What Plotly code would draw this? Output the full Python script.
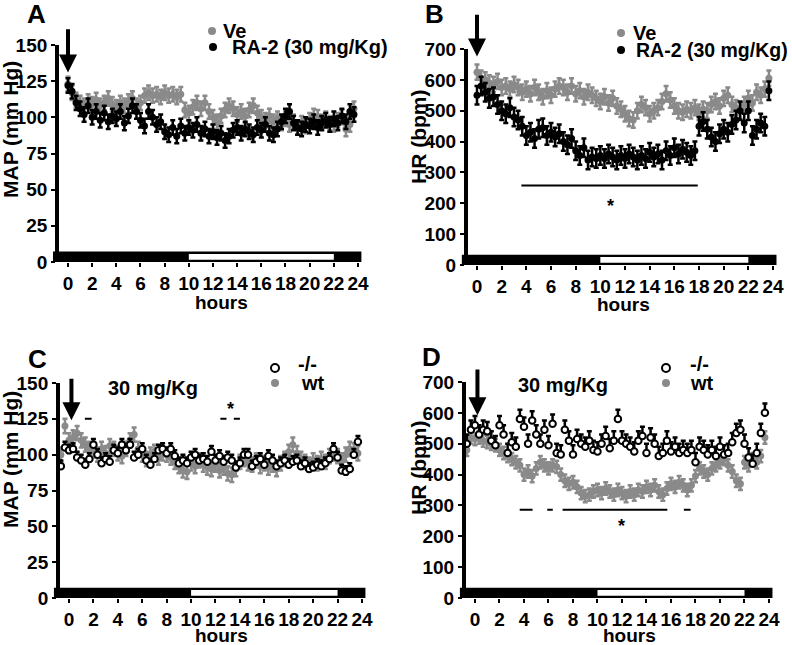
import plotly.graph_objects as go

W, H = 792, 645
FONT = "Liberation Sans, Arial, sans-serif"
GRAY = "#8a8a8a"

# ---------------- data ----------------
hours_ab = [round(i / 3, 3) for i in range(72)]          # 20-min bins, 0..23.67 h
hours_cd = [round(-2 / 3 + i / 3, 3) for i in range(74)]  # 20-min bins, -0.67..23.67 h

# Panel A: MAP (mm Hg)
map_ve = [123, 117, 112, 110, 108, 111, 109, 112, 108, 110, 113, 109,
          107, 110, 108, 111, 113, 108, 110, 115, 117, 115, 116, 114,
          117, 115, 116, 114, 116, 105, 103, 107, 110, 106, 110, 104,
          100, 97, 101, 105, 108, 106, 102, 104, 101, 105, 108, 103,
          100, 98, 101, 97, 99, 96, 99, 95, 97, 93, 96, 94,
          98, 101, 100, 97, 99, 96, 95, 98, 100, 92, 95, 106]
map_ra2 = [122, 118, 110, 106, 102, 108, 100, 104, 98, 103, 97, 101,
           99, 104, 96, 101, 108, 104, 98, 94, 104, 100, 95, 97,
           90, 88, 93, 87, 94, 89, 93, 91, 95, 89, 92, 87,
           90, 86, 89, 84, 87, 91, 93, 89, 92, 90, 88, 93,
           91, 95, 89, 88, 92, 97, 101, 104, 96, 93, 92, 95,
           94, 97, 93, 96, 98, 95, 99, 96, 101, 97, 104, 102]
map_ve_sem = 5
map_ra2_sem = 5

# Panel B: HR (bpm)
hr_ve = [625, 605, 600, 590, 585, 595, 575, 580, 570, 585, 575, 560,
         570, 555, 575, 560, 545, 565, 550, 570, 580, 575, 560, 580,
         555, 565, 545, 560, 550, 540, 530, 545, 525, 540, 515, 505,
         490, 475, 470, 500, 520, 510, 490, 500, 510, 530, 555, 535,
         515, 500, 495, 505, 500, 510, 495, 505, 500, 520, 530, 515,
         540, 550, 520, 510, 500, 520, 540, 525, 560, 550, 570, 605]
hr_ra2 = [550, 580, 560, 540, 545, 520, 500, 490, 510, 480, 470, 450,
          420, 430, 410, 440, 445, 420, 430, 415, 425, 400, 390, 410,
          370, 355, 380, 340, 350, 345, 355, 345, 360, 350, 340, 355,
          345, 360, 350, 340, 355, 345, 365, 350, 360, 340, 370, 355,
          380, 360, 375, 365, 355, 370, 450, 465, 440, 415, 400, 425,
          440, 430, 455, 470, 500, 460, 500, 420, 440, 460, 450, 565]
hr_ve_sem = 25
hr_ra2_sem = 30

# Panel C: MAP (mm Hg), 30 mg/Kg
map_ko = [92, 105,
          103, 104, 98, 96, 93, 97, 107, 100, 94, 97, 95, 103,
          101, 107, 103, 107, 98, 100, 104, 96, 93, 97, 103, 104,
          101, 104, 99, 94, 96, 94, 98, 100, 96, 97, 95, 102,
          96, 99, 95, 98, 96, 91, 94, 100, 100, 92, 95, 97,
          93, 99, 96, 92, 94, 96, 93, 95, 96, 92, 94, 90,
          91, 93, 92, 94, 97, 104, 98, 89, 88, 90, 100, 109]
map_wt = [100, 120,
          110, 112, 115, 110, 107, 104, 103, 100, 104, 101, 106, 104,
          101, 99, 104, 110, 114, 104, 100, 97, 100, 102, 98, 101,
          100, 98, 95, 92, 89, 88, 94, 92, 96, 93, 91, 90,
          93, 89, 91, 87, 86, 90, 95, 97, 94, 93, 96, 92,
          94, 91, 93, 90, 94, 97, 102, 107, 101, 97, 95, 93,
          96, 94, 97, 95, 99, 101, 99, 96, 100, 104, 103, 101]
map_ko_sem = 4
map_wt_sem = 5

# Panel D: HR (bpm), 30 mg/Kg
hr_ko = [500, 545,
         560, 530, 545, 540, 510, 495, 560, 530, 470, 505, 490, 580,
         555, 500, 575, 530, 500, 545, 495, 565, 470, 465, 545, 510,
         465, 515, 500, 490, 510, 480, 475, 500, 525, 485, 510, 580,
         510, 500, 490, 475, 510, 525, 470, 520, 500, 460, 470, 510,
         475, 490, 470, 480, 470, 480, 440, 490, 480, 465, 480, 460,
         490, 465, 470, 505, 535, 545, 500, 455, 435, 470, 535, 600]
hr_wt = [480, 520,
         515, 520, 510, 505, 500, 495, 480, 470, 460, 450, 440, 430,
         400, 410, 395, 420, 440, 430, 420, 430, 425, 400, 380, 370,
         375, 360, 340, 330, 335, 345, 350, 340, 355, 345, 335, 350,
         340, 330, 345, 335, 350, 345, 360, 350, 365, 345, 335, 355,
         370, 360, 375, 365, 350, 365, 395, 420, 410, 400, 420, 430,
         440, 450, 430, 410, 380, 370, 440, 430, 450, 440, 460, 520]
hr_ko_sem = 30
hr_wt_sem = 20

x_ticks = list(range(0, 25, 2))
map_ticks = [0, 25, 50, 75, 100, 125, 150]
hr_ticks = [0, 100, 200, 300, 400, 500, 600, 700]
light_phase = (10, 22)          # light period (white part of bar)
x_span = (-1.25, 24.3)          # extent of the light/dark bar
y_axis_at = -0.9                # hour where the y axis is drawn

# significance marks
sig_b = [(3.6, 17.9)]; sig_b_y = 258; star_b = (10.8, 190)
sig_c = [(1.3, 1.85), (12.4, 12.9), (13.5, 14.0)]; sig_c_y = 125; star_c = (13.2, 132)
sig_d = [(3.65, 4.7), (5.9, 6.35), (7.15, 15.7), (17.05, 17.6)]; sig_d_y = 286; star_d = (12.0, 234)

# ---------------- layout geometry (pixels) ----------------
panels = {
    "A": dict(ax="", h0=68, h24=358, ytop=45, ybot=262, ymax=150, ticks=map_ticks),
    "B": dict(ax="2", h0=477, h24=773, ytop=49, ybot=265, ymax=700, ticks=hr_ticks),
    "C": dict(ax="3", h0=69, h24=362, ytop=383, ybot=598, ymax=150, ticks=map_ticks),
    "D": dict(ax="4", h0=475, h24=769, ytop=382, ybot=598, ymax=700, ticks=hr_ticks),
}

def px(x):
    return x / W

def py(y):
    return 1 - y / H

fig = go.Figure()
layout = dict(width=W, height=H, margin=dict(l=0, r=0, t=0, b=0, pad=0), autosize=False,
              paper_bgcolor="white", plot_bgcolor="white", showlegend=False,
              font=dict(family=FONT, size=19, color="black", weight="bold"))
shapes = []
annotations = []

for name, p in panels.items():
    pph = (p["h24"] - p["h0"]) / 24
    left = p["h0"] + x_span[0] * pph
    right = p["h0"] + x_span[1] * pph
    yax_px = p["h0"] + y_axis_at * pph
    xa = "xaxis" + p["ax"]
    ya = "yaxis" + p["ax"]
    layout[xa] = dict(domain=[px(left), px(right)], range=list(x_span), anchor="y" + p["ax"],
                      automargin=False,
                      tickvals=x_ticks, ticks="outside", ticklen=4, tickwidth=2, tickcolor="black",
                      showline=False, showgrid=False, zeroline=False,
                      tickfont=dict(family=FONT, size=19, weight="bold", color="black"))
    layout[ya] = dict(domain=[py(p["ybot"]), py(p["ytop"])], range=[0, p["ymax"]],
                      anchor="free", position=px(yax_px), automargin=False,
                      tickvals=p["ticks"], ticks="outside", ticklen=4, tickwidth=2, tickcolor="black",
                      showline=True, linewidth=4, linecolor="black",
                      showgrid=False, zeroline=False,
                      tickfont=dict(family=FONT, size=19, weight="bold", color="black"))
    xr, yr = "x" + p["ax"], "y" + p["ax"]
    # light / dark bar
    shapes.append(dict(type="rect", xref=xr, yref=yr + " domain", x0=x_span[0], x1=x_span[1],
                       y0=0, y1=0.048, fillcolor="black", line=dict(width=0), layer="above"))
    shapes.append(dict(type="rect", xref=xr, yref=yr + " domain", x0=light_phase[0], x1=light_phase[1],
                       y0=0.01, y1=0.037, fillcolor="white", line=dict(width=0), layer="above"))

def add_series(ax, xs, ys, sem, color, hollow=False, up_only=False):
    xr, yr = "x" + ax, "y" + ax
    marker = dict(size=7, color=color, line=dict(width=0))
    if hollow:
        marker = dict(size=6.5, color="white", line=dict(width=2, color="black"))
    err = dict(type="constant", value=sem, color=color if not hollow else "black",
               thickness=2.5, width=2.5)
    if up_only:
        err.update(symmetric=False, valueminus=0)
    fig.add_trace(go.Scatter(x=xs, y=ys, mode="markers", marker=marker, error_y=err,
                             xaxis=xr, yaxis=yr, cliponaxis=False))

add_series("", hours_ab, map_ve, map_ve_sem, GRAY)
add_series("", hours_ab, map_ra2, map_ra2_sem, "black")
add_series("2", hours_ab, hr_ve, hr_ve_sem, GRAY)
add_series("2", hours_ab, hr_ra2, hr_ra2_sem, "black")
add_series("3", hours_cd, map_wt, map_wt_sem, GRAY)
add_series("3", hours_cd, map_ko, map_ko_sem, "black", hollow=True, up_only=True)
add_series("4", hours_cd, hr_wt, hr_wt_sem, GRAY)
add_series("4", hours_cd, hr_ko, hr_ko_sem, "black", hollow=True, up_only=True)

# significance lines and stars
for ax, segs, yv, star in [("2", sig_b, sig_b_y, star_b), ("3", sig_c, sig_c_y, star_c),
                           ("4", sig_d, sig_d_y, star_d)]:
    for a, b in segs:
        shapes.append(dict(type="line", xref="x" + ax, yref="y" + ax, x0=a, x1=b, y0=yv, y1=yv,
                           line=dict(color="black", width=2)))
    annotations.append(dict(x=star[0], y=star[1], xref="x" + ax, yref="y" + ax, text="*",
                            showarrow=False, font=dict(size=18, weight="bold")))

# dosing arrows
for ax, tip, tail in [("", (0, 131), 162), ("2", (0, 676), 816),
                      ("3", (0.2, 124), 154), ("4", (0.2, 592), 745)]:
    annotations.append(dict(x=tip[0], y=tip[1], xref="x" + ax, yref="y" + ax,
                            ax=tip[0], ay=tail, axref="x" + ax, ayref="y" + ax,
                            showarrow=True, arrowhead=2, arrowsize=0.9, arrowwidth=4,
                            arrowcolor="black", standoff=0, text=""))

def txt(x, y, text, size=20, xanchor="center", angle=0):
    annotations.append(dict(x=px(x), y=py(y), xref="paper", yref="paper", text=text,
                            showarrow=False, xanchor=xanchor, yanchor="middle", textangle=angle,
                            borderpad=0,
                            font=dict(family=FONT, size=size, weight="bold", color="black")))

# panel letters
txt(36, 14, "A", 26); txt(434, 14, "B", 26); txt(37, 359, "C", 26); txt(432, 357, "D", 26)
# axis titles
txt(10, 130, "MAP (mm Hg)", 21, angle=-90)
txt(418, 137, "HR (bpm)", 21, angle=-90)
txt(10, 460, "MAP (mm Hg)", 21, angle=-90)
txt(418, 468, "HR (bpm)", 21, angle=-90)
txt(222, 302, "hours", 19); txt(623, 304, "hours", 19)
txt(222, 635, "hours", 19); txt(629, 635, "hours", 19)
txt(153, 388, "30 mg/Kg", 20); txt(563, 385, "30 mg/Kg", 20)

# legends
def legend_dot(x, y, fill, outline=None):
    r = 4
    shapes.append(dict(type="circle", xref="paper", yref="paper",
                       x0=px(x - r), x1=px(x + r), y0=py(y + r), y1=py(y - r),
                       fillcolor=fill, line=dict(color=outline or fill, width=2 if outline else 0)))

legend_dot(212, 31, GRAY); txt(222, 31, "Ve", 20, "left")
legend_dot(213, 47, "black"); txt(231, 47, "RA-2 (30 mg/Kg)", 20, "left")
legend_dot(621, 33, GRAY); txt(632, 33, "Ve", 20, "left")
legend_dot(621, 50, "black"); txt(635, 50, "RA-2 (30 mg/Kg)", 19.5, "left")
legend_dot(275, 368, "white", "black"); txt(297, 364, "-/-", 20, "left")
legend_dot(275, 383, GRAY); txt(300, 383, "wt", 20, "left")
legend_dot(666, 368, "white", "black"); txt(689, 364, "-/-", 20, "left")
legend_dot(666, 383, GRAY); txt(689, 383, "wt", 20, "left")

layout["shapes"] = shapes
layout["annotations"] = annotations
fig.update_layout(**layout)
fig.write_html("out.html", config={"displayModeBar": False},
               post_script="document.body.style.margin='0px';document.body.style.overflow='hidden';")
